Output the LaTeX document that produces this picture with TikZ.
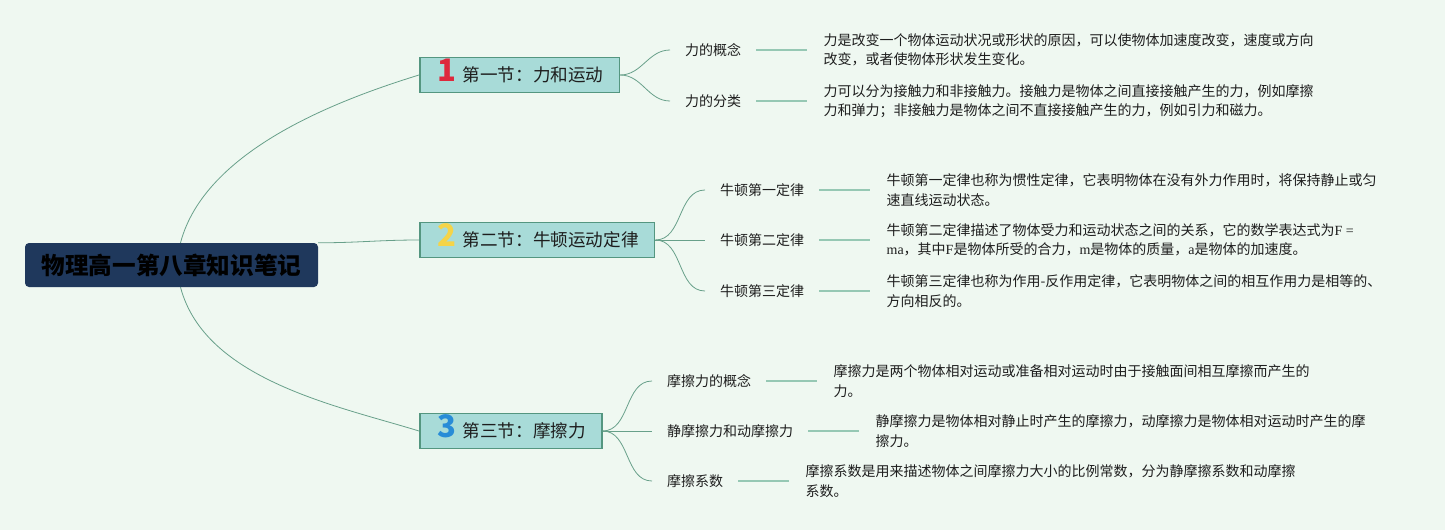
\documentclass[tikz,border=0pt]{standalone}
\usepackage{fontspec}
\setmainfont{Noto Sans CJK SC}
\newfontfamily\serifl{Liberation Serif}
\usetikzlibrary{positioning}

\definecolor{bgmint}{RGB}{239,248,241}
\definecolor{rootnavy}{RGB}{31,56,92}
\definecolor{secfill}{RGB}{168,219,216}
\definecolor{secdraw}{RGB}{84,150,128}
\definecolor{linkgreen}{RGB}{104,160,138}
\definecolor{stemgreen}{RGB}{150,200,180}
\definecolor{numred}{RGB}{222,40,60}
\definecolor{numyellow}{RGB}{245,212,72}
\definecolor{numblue}{RGB}{40,140,215}
\definecolor{inkdark}{RGB}{30,30,30}

\newcommand{\secnum}[2]{\hspace{2pt}\smash{\color{#1}\fontsize{31}{31}\selectfont\bfseries #2}\hspace{6pt}}

\begin{document}
\begin{tikzpicture}[x=1pt,y=-1pt,
  rootbox/.style={fill=rootnavy,rounded corners=4pt,minimum width=293pt,minimum height=44pt,
    text=black,font=\fontsize{23.6}{28}\selectfont\bfseries},
  secbox/.style={anchor=west,fill=secfill,draw=secdraw,line width=1.5pt,minimum height=35pt,
    inner xsep=16pt,inner ysep=1pt,text=inkdark,font=\fontsize{17.6}{21}\selectfont},
  leafnode/.style={anchor=west,inner xsep=15pt,inner ysep=2pt,text=inkdark,
    font=\fontsize{14}{16}\selectfont},
  descnode/.style={align=left,inner xsep=16pt,inner ysep=2pt,text=inkdark,
    font=\fontsize{14}{19.5}\selectfont},
  link/.style={draw=linkgreen,line width=0.8pt},
  stem/.style={draw=stemgreen,line width=1.8pt}]
\fill[bgmint] (0,0) rectangle (1445,530);

\node[rootbox] (root) at (171.5,265) {物理高一第八章知识笔记};

\node[secbox] (s1) at (419,75) {\secnum{numred}{1}第一节：力和运动};
\node[secbox] (s2) at (419,240) {\secnum{numyellow}{2}第二节：牛顿运动定律};
\node[secbox] (s3) at (419,431) {\secnum{numblue}{3}第三节：摩擦力};

\draw[link] ([xshift=9pt]root.north) .. controls (205,150) and (338,100) .. (s1.west);
\draw[link] (root.north east) to[out=0,in=180] (s2.west);
\draw[link] ([xshift=9pt]root.south) .. controls (205,380) and (338,406) .. (s3.west);

\node[leafnode] (l11) at (670,50) {力的概念};
\node[leafnode] (l12) at (670,101) {力的分类};
\node[leafnode] (l21) at (705,190) {牛顿第一定律};
\node[leafnode] (l22) at (705,240) {牛顿第二定律};
\node[leafnode] (l23) at (705,291) {牛顿第三定律};
\node[leafnode] (l31) at (652,381) {摩擦力的概念};
\node[leafnode] (l32) at (652,431) {静摩擦力和动摩擦力};
\node[leafnode] (l33) at (652,481) {摩擦系数};

\node[descnode,right=51pt of l11] (d11) {力是改变一个物体运动状况或形状的原因，可以使物体加速度改变，速度或方向\\改变，或者使物体形状发生变化。};
\node[descnode,right=51pt of l12] (d12) {力可以分为接触力和非接触力。接触力是物体之间直接接触产生的力，例如摩擦\\力和弹力；非接触力是物体之间不直接接触产生的力，例如引力和磁力。};
\node[descnode,right=51pt of l21] (d21) {牛顿第一定律也称为惯性定律，它表明物体在没有外力作用时，将保持静止或匀\\速直线运动状态。};
\node[descnode,right=51pt of l22] (d22) {牛顿第二定律描述了物体受力和运动状态之间的关系，它的数学表达式为{\serifl F =}\\{\serifl ma}，其中{\serifl F}是物体所受的合力，{\serifl m}是物体的质量，{\serifl a}是物体的加速度。};
\node[descnode,right=51pt of l23] (d23) {牛顿第三定律也称为作用-反作用定律，它表明物体之间的相互作用力是相等的、\\方向相反的。};
\node[descnode,right=51pt of l31] (d31) {摩擦力是两个物体相对运动或准备相对运动时由于接触面间相互摩擦而产生的\\力。};
\node[descnode,right=51pt of l32] (d32) {静摩擦力是物体相对静止时产生的摩擦力，动摩擦力是物体相对运动时产生的摩\\擦力。};
\node[descnode,right=51pt of l33] (d33) {摩擦系数是用来描述物体之间摩擦力大小的比例常数，分为静摩擦系数和动摩擦\\系数。};

\draw[link] (s1.east) to[out=0,in=180] (l11.west);
\draw[link] (s1.east) to[out=0,in=180] (l12.west);
\draw[link] (s2.east) to[out=0,in=180] (l21.west);
\draw[link] (s2.east) -- (l22.west);
\draw[link] (s2.east) to[out=0,in=180] (l23.west);
\draw[link] (s3.east) to[out=0,in=180] (l31.west);
\draw[link] (s3.east) -- (l32.west);
\draw[link] (s3.east) to[out=0,in=180] (l33.west);

\draw[stem] (l11) -- (d11);
\draw[stem] (l12) -- (d12);
\draw[stem] (l21) -- (d21);
\draw[stem] (l22) -- (d22);
\draw[stem] (l23) -- (d23);
\draw[stem] (l31) -- (d31);
\draw[stem] (l32) -- (d32);
\draw[stem] (l33) -- (d33);
\end{tikzpicture}
\end{document}
